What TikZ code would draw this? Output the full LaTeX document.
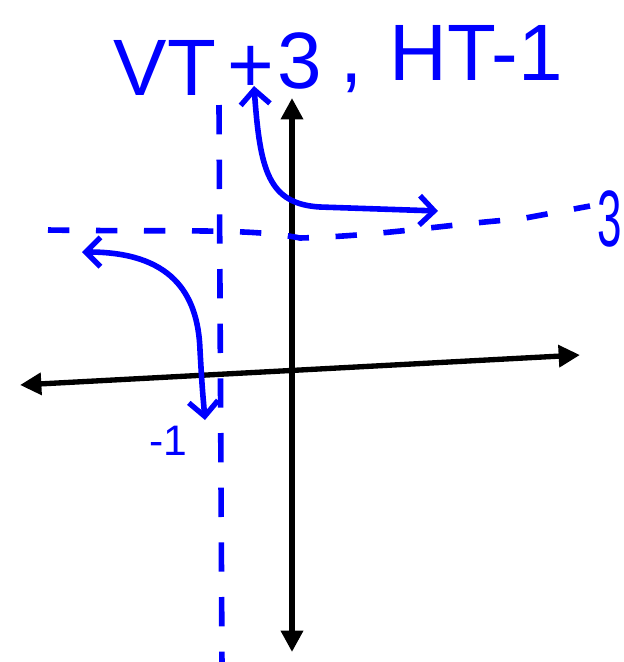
\documentclass[tikz,border=0pt]{standalone}
\usepackage{fontspec}
\setmainfont{Liberation Sans}
\usetikzlibrary{arrows.meta}
\begin{document}
\begin{tikzpicture}[x=0.75pt,y=-0.75pt,
  axisline/.style={line width=4pt,black,{Triangle[length=16pt,width=16pt]}-{Triangle[length=16pt,width=16pt]}},
  asym/.style={line width=4.2pt,blue},
  branch/.style={line width=4.2pt,blue,line cap=round,line join=round,{Straight Barb[length=11pt,width=22pt,line width=4pt]}-{Straight Barb[length=11pt,width=22pt,line width=4pt]}},
  hand/.style={text=blue,inner sep=0pt,font=\fontsize{60}{60}\selectfont},
  small/.style={text=blue,inner sep=0pt,font=\fontsize{32}{32}\selectfont}]
\useasboundingbox (0,0) rectangle (624,662);
% axes
\coordinate (xl) at (20,385);
\coordinate (xr) at (580,355);
\coordinate (yt) at (292,98);
\coordinate (yb) at (292,652);
\draw[axisline] (xl) -- (xr);
\draw[axisline] (yb) -- (yt);
% asymptotes
\coordinate (vat) at (219,105);
\coordinate (vab) at (222,668);
\draw[asym,dash pattern=on 22pt off 19pt] (vat) -- (vab);
\coordinate (hal) at (48,230);
\coordinate (har) at (590,206);
\draw[asym,dash pattern=on 16pt off 20pt] (hal) .. controls (180,232) and (250,228) .. (300,238)
  .. controls (380,236) and (450,224) .. (520,219) -- (har);
% branches
\coordinate (ua) at (254,86);
\coordinate (ub) at (438,211);
\draw[branch] (ua) .. controls (260,170) and (268,204) .. (320,207) -- (ub);
\coordinate (la) at (82,252);
\coordinate (lb) at (205,420);
\draw[branch] (la) .. controls (170,252) and (198,292) .. (200,350) .. controls (202,385) .. (lb);
% labels
\node[hand,anchor=base] (vt) at (165,95) {VT};
\node[hand,anchor=base] (pl) at (251,92) {+};
\node[hand,anchor=base] (th) at (300,88) {3};
\node[hand,anchor=base] (cm) at (352,82) {,};
\node[hand,anchor=base] (ht) at (476,80) {HT-1};
\node[small,anchor=base] (m1) at (168,455) {-1};
\node[hand,anchor=base east,xscale=0.55] (r3) at (622,246) {3};
\end{tikzpicture}
\end{document}
